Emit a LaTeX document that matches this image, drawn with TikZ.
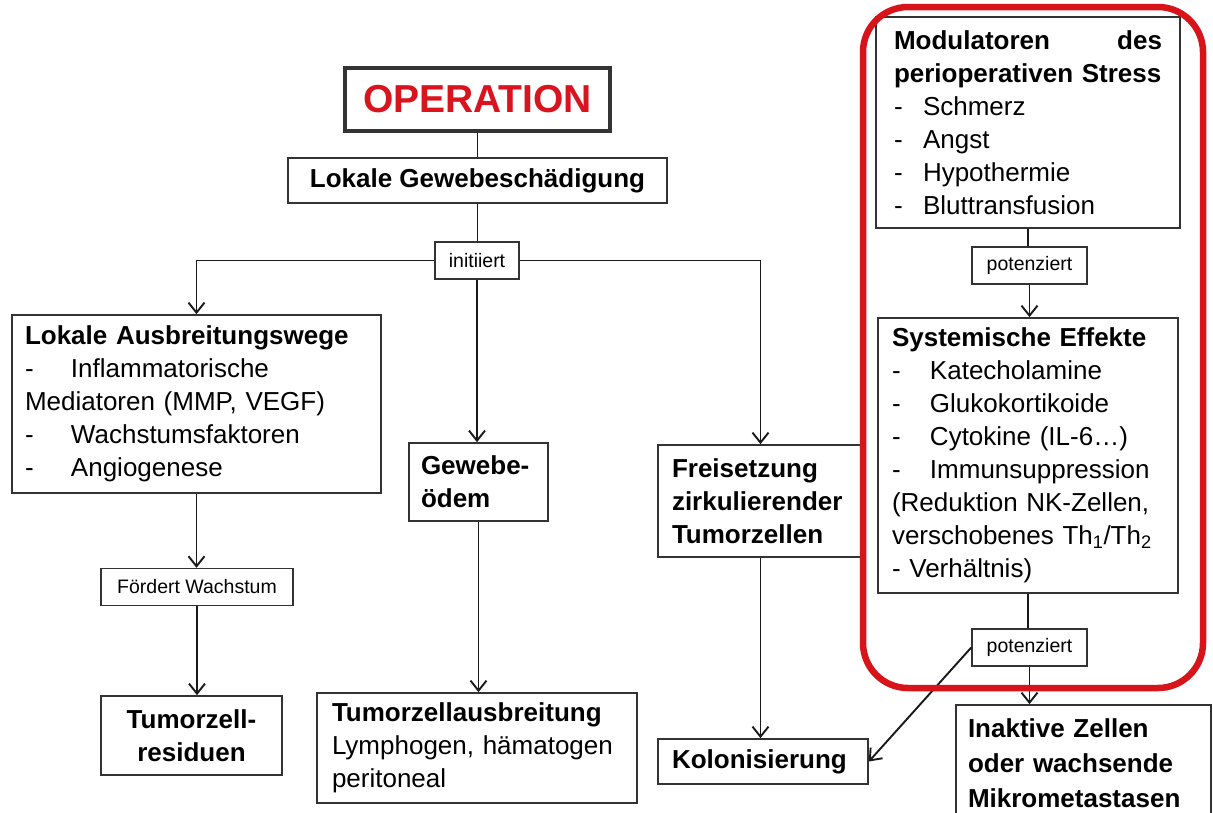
\documentclass[tikz,border=0pt]{standalone}
\usepackage{fontspec}
\setmainfont{Liberation Sans}
\usetikzlibrary{arrows.meta}
\definecolor{opred}{HTML}{D9141E}
\definecolor{framered}{HTML}{D7141A}
\definecolor{edgegray}{HTML}{333333}
\begin{document}
\begin{tikzpicture}[x=1pt,y=-1pt,
  base/.style={draw=edgegray, line width=1.7pt, inner sep=0pt, fill=white},
  big/.style={base, font=\fontsize{26}{33}\selectfont},
  lbl/.style={base, line width=1.5pt, font=\fontsize{19.5}{22}\selectfont},
  conn/.style={line width=1.9pt, draw=black!90},
  arr/.style={conn, -{Straight Barb[length=10pt,width=16pt]}}]
\useasboundingbox (0,0) rectangle (1213,812);
\path[fill=white] (0,0) rectangle (1213,812);

% left / middle column
\node[base, line width=3.5pt, minimum width=265pt, minimum height=63pt,
      font=\fontsize{39}{39}\selectfont\bfseries, text=opred] (op) at (477.5,99.5) {OPERATION};
\node[big, minimum width=379pt, minimum height=45pt] (lg) at (477.5,180.5) {\textbf{Lokale Gewebeschädigung}};
\node[lbl, minimum width=84pt, minimum height=37pt] (init) at (477,260.5) {initiiert};

\node[big, text width=343pt, align=left, minimum width=369pt, minimum height=178pt] (la) at (196.5,404)
  {\textbf{Lokale Ausbreitungswege}\\
   \makebox[46pt][l]{-}Inflammatorische\\
   Mediatoren (MMP, VEGF)\\
   \makebox[46pt][l]{-}Wachstumsfaktoren\\
   \makebox[46pt][l]{-}Angiogenese};
\node[lbl, minimum width=192pt, minimum height=37pt] (fw) at (197,587) {Fördert Wachstum};
\node[big, align=center, minimum width=181pt, minimum height=79pt] (tr) at (191.5,735.5)
  {\textbf{Tumorzell-}\\\textbf{residuen}};

\node[big, text width=115pt, align=left, minimum width=139pt, minimum height=78pt] (ge) at (478.5,482)
  {\textbf{Gewebe-}\\\textbf{ödem}};
\node[big, text width=290pt, align=left, minimum width=320pt, minimum height=110pt] (ta) at (477,748)
  {\textbf{Tumorzellausbreitung}\\Lymphogen, hämatogen\\peritoneal};

\node[big, text width=177pt, align=left, minimum width=205pt, minimum height=112pt] (fz) at (760.5,501)
  {\textbf{Freisetzung}\\\textbf{zirkulierender}\\\textbf{Tumorzellen}};
\node[big, text width=182pt, align=left, minimum width=210pt, minimum height=45pt] (ko) at (763,761.5)
  {\textbf{Kolonisierung}};

% right column
\node[big, text width=268pt, align=left, minimum width=304pt, minimum height=211pt] (mod) at (1028,122.5)
  {\textbf{Modulatoren\hfill des}\\
   \textbf{perioperativen Stress}\\
   \makebox[29pt][l]{-}Schmerz\\
   \makebox[29pt][l]{-}Angst\\
   \makebox[29pt][l]{-}Hypothermie\\
   \makebox[29pt][l]{-}Bluttransfusion};
\node[lbl, minimum width=115pt, minimum height=37pt] (pot1) at (1029.5,265.5) {potenziert};
\node[big, text width=272pt, align=left, minimum width=300pt, minimum height=275pt] (sys) at (1028,455.5)
  {\textbf{Systemische Effekte}\\
   \makebox[38pt][l]{-}Katecholamine\\
   \makebox[38pt][l]{-}Glukokortikoide\\
   \makebox[38pt][l]{-}Cytokine (IL-6…)\\
   \makebox[38pt][l]{-}Immunsuppression\\
   (Reduktion NK-Zellen,\\
   verschobenes Th\textsubscript{1}/Th\textsubscript{2}\\
   - Verhältnis)};
\node[lbl, minimum width=115pt, minimum height=37pt] (pot2) at (1029.5,647.5) {potenziert};
\node[big, font=\fontsize{26}{35}\selectfont, text width=231pt, align=left, minimum width=255pt, minimum height=116pt] (ina) at (1083.5,763)
  {\textbf{Inaktive Zellen}\\\textbf{oder wachsende}\\\textbf{Mikrometastasen}};

% connectors
\draw[conn] (op.south) -- (op.south |- lg.north);
\draw[conn] (lg.south) -- (lg.south |- init.north);
\draw[arr] (init.west) -| (la.north);
\draw[arr] (init.east) -| (fz.north);
\draw[arr] (init.south) -- (init.south |- ge.north);
\draw[arr] (la.south) -- (la.south |- fw.north);
\draw[arr] (fw.south) -- (fw.south |- tr.north);
\draw[arr] (ge.south) -- (ge.south |- ta.north);
\draw[arr] (fz.south) -- (fz.south |- ko.north);
\draw[conn] (mod.south) -- (mod.south |- pot1.north);
\draw[arr] (pot1.south) -- (pot1.south |- sys.north);
\draw[conn] (sys.south) -- (sys.south |- pot2.north);
\draw[arr] (pot2.south) -- (pot2.south |- ina.north);
\draw[arr] (pot2.west) -- (ko.east);

% red frame
\draw[framered, line width=6.5pt, rounded corners=45pt] (863,7) rectangle (1203,688);
\end{tikzpicture}
\end{document}
